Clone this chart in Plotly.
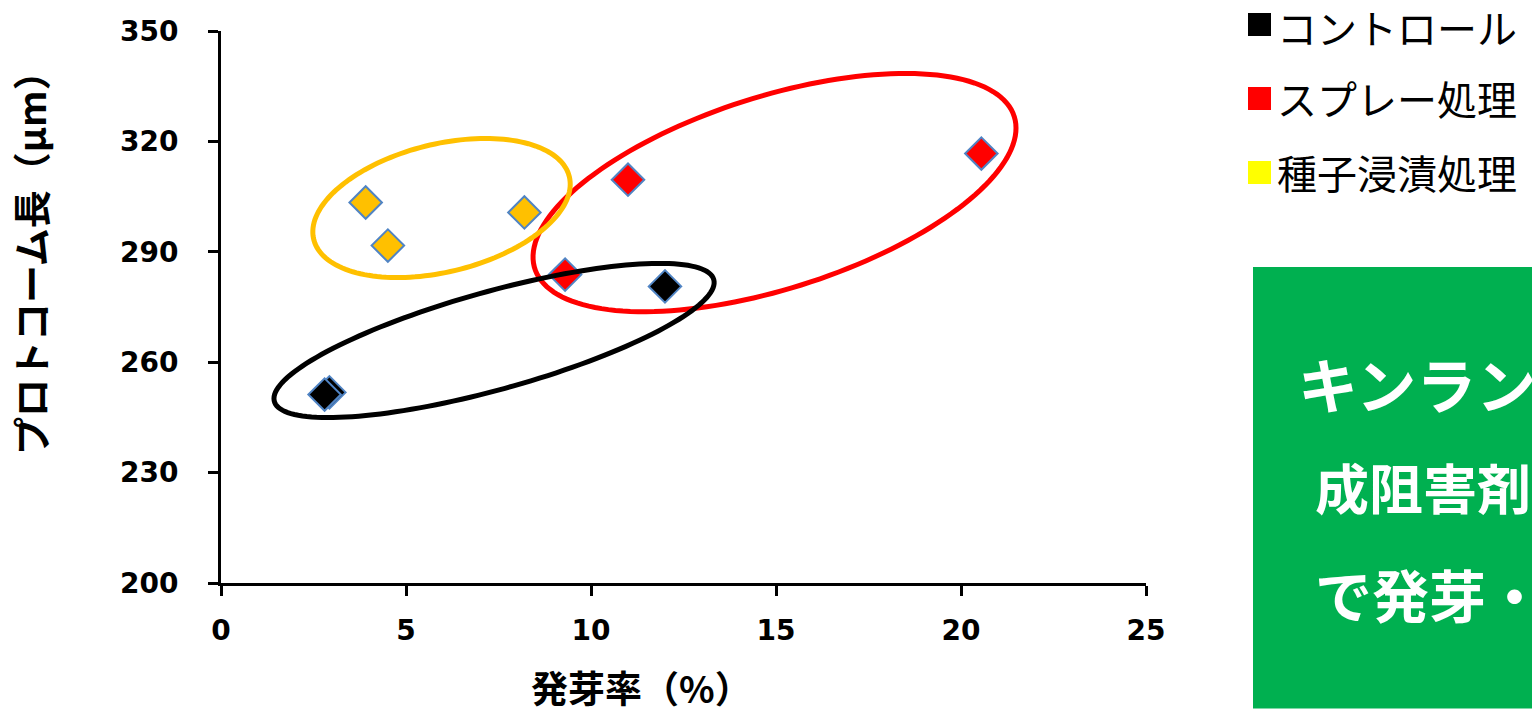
import numpy as np
import plotly.graph_objects as go

# ---------------- data ----------------
control_x = [2.93, 2.80, 12.0]
control_y = [251.8, 251.2, 280.6]
spray_x = [9.3, 11.0, 20.55]
spray_y = [283.8, 309.6, 316.7]
soak_x = [3.91, 4.51, 8.2]
soak_y = [303.4, 291.7, 300.7]

series_names = ["コントロール", "スプレー処理", "種子浸漬処理"]
marker_colors = ["#000000", "#FF0000", "#FFC000"]
legend_colors = ["#000000", "#FF0000", "#FFFF00"]

x_ticks = [0, 5, 10, 15, 20, 25]
y_ticks = [200, 230, 260, 290, 320, 350]
x_title = "発芽率（%）"
y_title = "プロトコーム長（μm）"
box_lines = ["キンランの発芽・生長", "成阻害剤の種子浸漬処理", "で発芽・生長が促進"]

# group ellipses: centre (data), semi-axes (px), tilt (deg)
ell_centers = [(14.96, 306.1), (5.96, 301.9), (7.38, 265.9)]
ell_axes = [(251.5, 96.2), (131.6, 63.9), (228.0, 49.0)]
ell_tilt = [17.6, 13.8, 15.5]
ell_colors = ["#FF0000", "#FFC000", "#000000"]

# ---------------- layout geometry ----------------
W, H = 1532, 709
ML, MR, MT, MB = 221, 386, 31, 126
PW, PH = W - ML - MR, H - MT - MB
XR = [x_ticks[0], x_ticks[-1]]
YR = [y_ticks[0], y_ticks[-1]]
sx = PW / (XR[1] - XR[0])
sy = PH / (YR[1] - YR[0])


def px2paper(px, py):
    return (px - ML) / PW, (H - MB - py) / PH


fig = go.Figure()

for xs, ys, name, col in zip([control_x, spray_x, soak_x],
                             [control_y, spray_y, soak_y],
                             series_names, marker_colors):
    fig.add_trace(go.Scatter(
        x=xs, y=ys, mode="markers", name=name, showlegend=False,
        marker=dict(symbol="diamond", size=25, color=col,
                    line=dict(color="#5084C4", width=2)),
    ))

shapes = []
t = np.linspace(0, 2 * np.pi, 160)
for (cx, cy), (a, b), th, col in zip(ell_centers, ell_axes, ell_tilt, ell_colors):
    r = np.deg2rad(th)
    dx = a * np.cos(t) * np.cos(r) - b * np.sin(t) * np.sin(r)
    dy = a * np.cos(t) * np.sin(r) + b * np.sin(t) * np.cos(r)
    xs = cx + dx / sx
    ys = cy + dy / sy
    path = "M " + " L ".join(f"{x:.4f},{y:.4f}" for x, y in zip(xs, ys)) + " Z"
    shapes.append(dict(type="path", path=path, xref="x", yref="y",
                       line=dict(color=col, width=5), layer="above"))

# legend squares
leg_y = [24.5, 98.5, 172.5]
for yc, col in zip(leg_y, legend_colors):
    x0, y0 = px2paper(1248, yc + 11.5)
    x1, y1 = px2paper(1271, yc - 11.5)
    shapes.append(dict(type="rect", xref="paper", yref="paper",
                       x0=x0, x1=x1, y0=y0, y1=y1,
                       fillcolor=col, line=dict(width=0)))

# green box
gx0, gy0 = px2paper(1253, 708.5)
gx1, gy1 = px2paper(1600, 267)
shapes.append(dict(type="rect", xref="paper", yref="paper",
                   x0=gx0, x1=gx1, y0=gy0, y1=gy1,
                   fillcolor="#00B050", line=dict(width=0), layer="below"))

annotations = []
for yc, name in zip([27, 98, 172], series_names):
    ax, ay = px2paper(1277, yc)
    annotations.append(dict(x=ax, y=ay, xref="paper", yref="paper",
                            text=name, showarrow=False, xanchor="left", yanchor="middle",
                            borderpad=0, borderwidth=0,
                            font=dict(family="Noto Sans CJK JP", size=40, color="black")))

box_pos = [(1296, 382, 60), (1313, 486, 54), (1313, 593, 57)]
for (bx, by, fs), line in zip(box_pos, box_lines):
    ax, ay = px2paper(bx, by)
    annotations.append(dict(x=ax, y=ay, xref="paper", yref="paper",
                            text=line, showarrow=False, xanchor="left", yanchor="middle",
                            font=dict(family="Noto Sans CJK JP", size=fs, color="white", weight="bold")))

ax, ay = px2paper(641, 687)
annotations.append(dict(x=ax, y=ay, xref="paper", yref="paper", text=x_title,
                        showarrow=False, xanchor="center", yanchor="middle",
                        font=dict(family="Noto Sans CJK JP", size=37, color="black", weight="bold")))
ax, ay = px2paper(29, 254)
annotations.append(dict(x=ax, y=ay, xref="paper", yref="paper", text=y_title,
                        showarrow=False, textangle=-90, xanchor="center", yanchor="middle",
                        font=dict(family="Noto Sans CJK JP", size=38, color="black", weight="bold")))

tickfont = dict(family="DejaVu Sans", size=28, color="black", weight="bold")
fig.update_layout(
    width=W, height=H,
    margin=dict(l=ML, r=MR, t=MT, b=MB, pad=0),
    paper_bgcolor="white", plot_bgcolor="white",
    showlegend=False,
    shapes=shapes, annotations=annotations,
    xaxis=dict(range=XR, tickvals=x_ticks, showgrid=False, zeroline=False,
               showline=True, linecolor="black", linewidth=3,
               ticks="outside", ticklen=10, tickwidth=3, tickcolor="black",
               tickfont=tickfont, ticklabelstandoff=10, automargin=False, fixedrange=True),
    yaxis=dict(range=YR, tickvals=y_ticks, showgrid=False, zeroline=False,
               showline=True, linecolor="black", linewidth=3,
               ticks="outside", ticklen=10, tickwidth=3, tickcolor="black",
               tickfont=tickfont, ticklabelstandoff=24, automargin=False, fixedrange=True),
)

fig.write_html("out.html", config={"displayModeBar": False},
               post_script="document.body.style.margin='0';document.body.style.overflow='hidden';")
